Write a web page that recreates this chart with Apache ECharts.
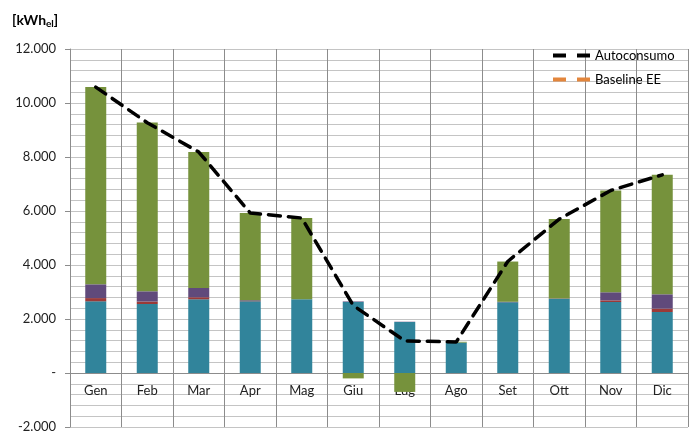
<!DOCTYPE html>
<html><head><meta charset="utf-8">
<script src="https://cdn.jsdelivr.net/npm/echarts@6/dist/echarts.min.js"></script>
<style>html,body{margin:0;padding:0;background:#fff}#c{width:689px;height:432px}</style>
</head><body><div id="c"></div>
<script>
const categories = ['Gen','Feb','Mar','Apr','Mag','Giu','Lug','Ago','Set','Ott','Nov','Dic'];
const tealVals   = [2655, 2556, 2730, 2655, 2730, 2630, 1890, 1126, 2618, 2741, 2630, 2260];
const redVals    = [120, 90, 75, 10, 0, 0, 0, 0, 0, 0, 60, 125];
const purpleVals = [510, 380, 345, 30, 0, 20, 10, 0, 20, 20, 300, 530];
const greenVals  = [7305, 6250, 5035, 3230, 3010, -200, -700, 30, 1490, 2940, 3770, 4430];
const autoconsumo = [10590, 9270, 8185, 5925, 5740, 2500, 1190, 1150, 4130, 5700, 6760, 7340];
const baselineEE = [];
const yMin = -2000, yMax = 12000, yStep = 2000;

const FONT = 'Lato, "Open Sans", sans-serif';
const fmt = v => v === 0 ? '-' : (v < 0 ? '-' : '') + Math.abs(v).toLocaleString('de-DE');
const dashIcon = 'path://M0,0h13v4h-13z M24,0h13v4h-13z';

const GRID_TOP = 49, GRID_BOTTOM = 5, H = 432;
const plotH = H - GRID_TOP - GRID_BOTTOM;
const zeroOffset = -plotH * (0 - yMin) / (yMax - yMin);

const chart = echarts.init(document.getElementById('c'), null, {renderer:'canvas'});
const barBase = {type:'bar', stack:'s', barWidth:21, silent:true};
chart.setOption({
  animation:false,
  textStyle:{fontFamily:FONT},
  title:{
    left:7, top:7,
    text:'{a|[kWh}{b|el}{a|]}',
    textStyle:{rich:{
      a:{fontFamily:FONT, fontSize:14, fontWeight:'bold', color:'#000'},
      b:{fontFamily:FONT, fontSize:10, fontWeight:'bold', color:'#000', verticalAlign:'bottom', padding:[7,0,0,0]}
    }}
  },
  legend:{
    orient:'vertical', left:548, top:44, itemGap:11,
    itemWidth:37, itemHeight:4,
    textStyle:{fontFamily:FONT, fontSize:13, color:'#000'},
    data:[{name:'Autoconsumo', icon:dashIcon},{name:'Baseline EE', icon:dashIcon}]
  },
  grid:{left:70, right:1, top:GRID_TOP, bottom:GRID_BOTTOM, containLabel:false, outerBoundsMode:'none'},
  xAxis:{
    type:'category', data:categories, boundaryGap:true, position:'bottom', offset:zeroOffset,
    axisLine:{onZero:false, lineStyle:{color:'#8c8c8c', width:1}},
    axisTick:{show:false},
    axisLabel:{fontFamily:FONT, fontSize:13, color:'#222', margin:11},
    splitLine:{show:true, lineStyle:{color:'#8c8c8c', width:1}}
  },
  yAxis:{
    type:'value', min:yMin, max:yMax, interval:yStep,
    axisLine:{show:true, lineStyle:{color:'#8c8c8c'}},
    axisTick:{show:true, length:5, inside:false, lineStyle:{color:'#8c8c8c'}},
    minorTick:{show:false, splitNumber:5},
    minorSplitLine:{show:true, lineStyle:{color:'#c4c4c4', width:1}},
    splitLine:{show:true, lineStyle:{color:'#c4c4c4', width:1}},
    axisLabel:{fontFamily:FONT, fontSize:13, color:'#222', margin:14, formatter:fmt}
  },
  series:[
    Object.assign({}, barBase, {name:'teal', data:tealVals, itemStyle:{color:'#31849b'}}),
    Object.assign({}, barBase, {name:'red', data:redVals, itemStyle:{color:'#9b3a38'}}),
    Object.assign({}, barBase, {name:'purple', data:purpleVals, itemStyle:{color:'#604a7b'}}),
    Object.assign({}, barBase, {name:'green', data:greenVals, itemStyle:{color:'#76923c'}}),
    {name:'Autoconsumo', type:'line', data:autoconsumo, symbol:'none', silent:true, z:5,
     itemStyle:{color:'#000'},
     lineStyle:{color:'#000', width:3.5, type:[12,8], cap:'round'}},
    {name:'Baseline EE', type:'line', data:baselineEE, symbol:'none', silent:true,
     itemStyle:{color:'#e3863c'},
     lineStyle:{color:'#e3863c', width:3.5, type:[12,8]}}
  ]
});
</script></body></html>
